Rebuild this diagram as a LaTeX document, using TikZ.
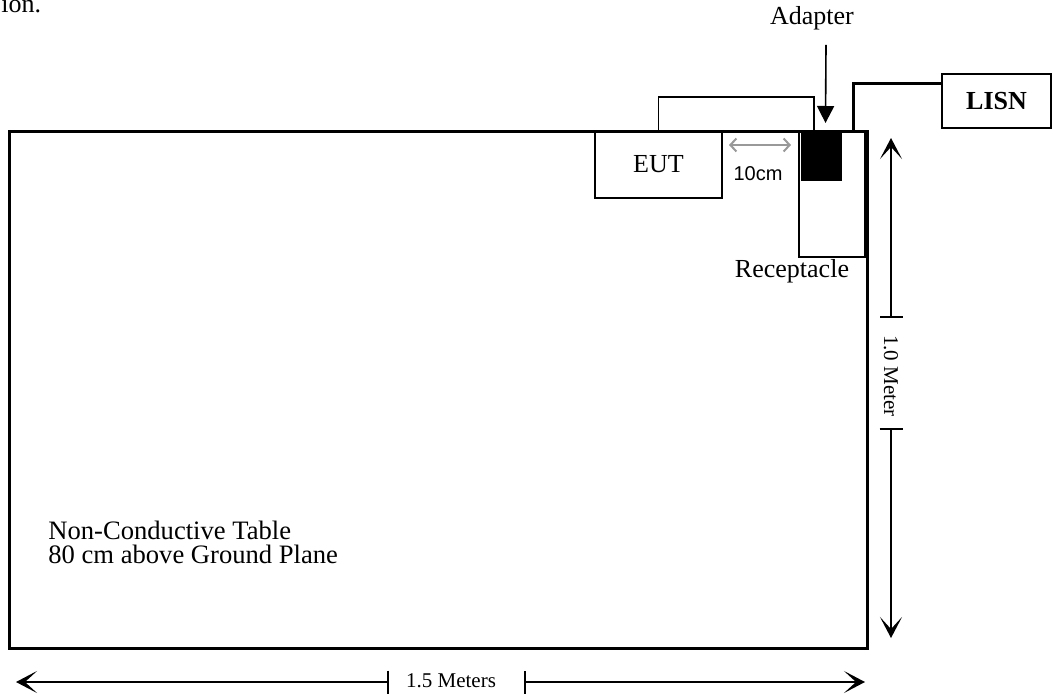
\documentclass[tikz,border=0pt]{standalone}
\usepackage{fontspec}
\setmainfont{Liberation Serif}
\newfontfamily\arialfont{Liberation Sans}
\usetikzlibrary{arrows.meta, positioning}

\tikzset{
    dimtip/.tip={Stealth[length=10.5pt, width=11pt, inset=6pt]},
    box/.style={draw, line width=0.8pt, inner sep=0pt, outer sep=0pt},
    lbl/.style={font=\fontsize{13}{14}\selectfont, inner sep=0pt},
    dimlbl/.style={font=\fontsize{10.5}{12}\selectfont, inner sep=0pt},
    dimline/.style={line width=0.9pt},
    cable/.style={line width=1.5pt}
}

\begin{document}
\begin{tikzpicture}[x=0.5pt, y=-0.5pt]
    \useasboundingbox (0,0) rectangle (1053,696);
    \clip (0,0) rectangle (1053,696);
    \node[lbl, anchor=base west] (cut) at (1,12) {ion.};

    \node[box, anchor=north west, minimum width=63.5pt, minimum height=33.5pt, lbl] (eut) at (595,131) {EUT};
    \node[box, anchor=north west, minimum width=33pt, minimum height=63pt] (receptacle) at (799,131) {};
    \node[box, fill=black, anchor=north west, minimum width=19.5pt, minimum height=24.5pt] (adapter) at (802,131) {};
    \node[box, anchor=north west, minimum width=54.5pt, minimum height=27pt, lbl, font=\fontsize{13}{14}\selectfont\bfseries] (lisn) at (942,74) {LISN};
    \node[box, line width=1.5pt, anchor=north west, minimum width=429pt, minimum height=258.5pt] (table) at (9,131) {};

    \node[lbl, anchor=base] (adlabel) at (812,25) {Adapter};
    \node[lbl, anchor=base] (reclabel) at (792,277) {Receptacle};
    \node[lbl, anchor=north west, align=left, font=\fontsize{13.3}{11.8}\selectfont] (tablabel) at (48,521)
        {Non-Conductive Table\\80 cm above Ground Plane};
    \node[inner sep=0pt, anchor=base, font=\arialfont\fontsize{10}{12}\selectfont] (gaplabel) at (758,180) {10cm};

    \draw[line width=0.8pt] (eut.north) -- ++(0,-34) -| ([xshift=6pt]adapter.north west);
    \draw[cable] ([xshift=-6pt]receptacle.north east) |- ([yshift=9pt]lisn.west);
    \draw[line width=0.8pt, -{Triangle[length=8.5pt, width=8.5pt]}] ([xshift=7pt, yshift=-7pt]adlabel.south)
        -- ([xshift=2pt, yshift=4pt]adapter.north);
    \draw[black!40, line width=1pt, {Straight Barb[length=3pt, width=6.5pt]}-{Straight Barb[length=3pt, width=6.5pt]}]
        ([xshift=3.5pt, yshift=-7pt]eut.north east) -- ([xshift=-4pt, yshift=-7pt]receptacle.north west);

    \coordinate (vtop) at (891,138);
    \coordinate (vtickA) at (891,318);
    \coordinate (vtickB) at (891,428);
    \coordinate (vbot) at (891,638);
    \node[dimlbl, rotate=-90] (vlabel) at (891,376) {1.0 Meter};
    \draw[dimline, {Bar[width=11.5pt]}-dimtip] (vtickA) -- (vtop);
    \draw[dimline, {Bar[width=11.5pt]}-dimtip] (vtickB) -- (vbot);

    \coordinate (hleft) at (16,682);
    \coordinate (htickA) at (389,682);
    \coordinate (htickB) at (524,682);
    \coordinate (hright) at (865,682);
    \node[dimlbl] (hlabel) at (451,681) {1.5 Meters};
    \draw[dimline, {Bar[width=11.5pt]}-dimtip] (htickA) -- (hleft);
    \draw[dimline, {Bar[width=11.5pt]}-dimtip] (htickB) -- (hright);
\end{tikzpicture}
\end{document}
